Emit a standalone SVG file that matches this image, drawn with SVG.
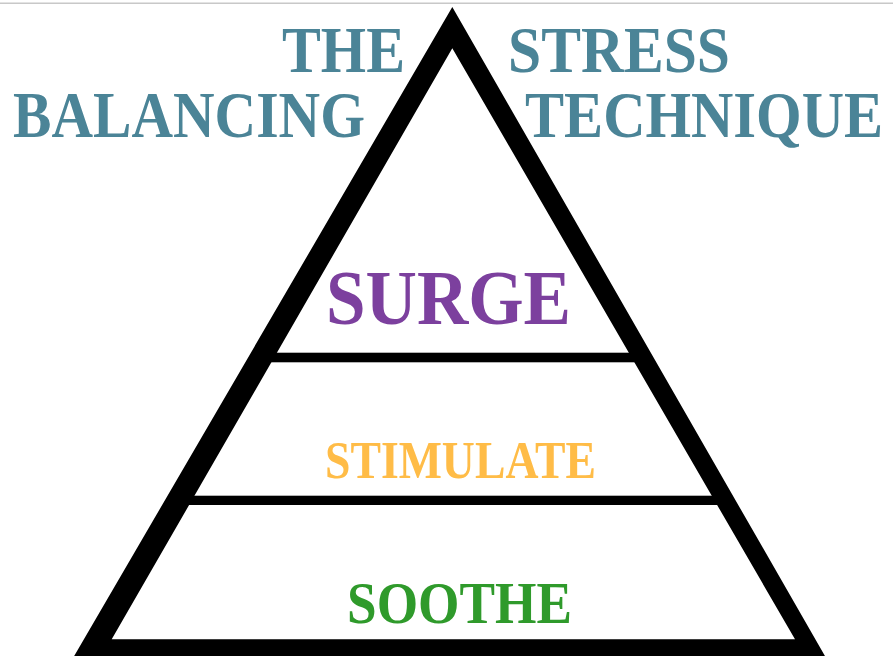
<svg xmlns="http://www.w3.org/2000/svg" width="893" height="656" viewBox="0 0 893 656">
  <style>
    .t { font-family: "Liberation Serif", "Times New Roman", serif; font-weight: bold; }
    .title { fill: #4b8497; font-size: 65px; }
    .surge { fill: #7c409e; font-size: 78px; }
    .stim { fill: #ffbc47; font-size: 53px; }
    .soothe { fill: #2f9a2b; font-size: 60px; }
  </style>
  <rect x="0" y="0" width="893" height="656" fill="#ffffff"/>
  <rect x="0" y="2.5" width="893" height="1.5" fill="#c8c8c8"/>

  <g id="pyramid">
    <path fill="#000" fill-rule="evenodd" d="M452.3,7 L66,670 L833,670 Z M452.3,48.3 L111.7,639.3 L795,639.3 Z"/>
    <rect x="265" y="352.7" width="380" height="9.6" fill="#000"/>
    <rect x="180" y="495.7" width="545" height="9.3" fill="#000"/>
  </g>

  <g id="title">
    <text class="t title" x="282" y="71.7" textLength="123" lengthAdjust="spacingAndGlyphs">THE</text>
    <text class="t title" x="508" y="71.7" textLength="222" lengthAdjust="spacingAndGlyphs">STRESS</text>
    <text class="t title" x="13" y="136.7" textLength="352" lengthAdjust="spacingAndGlyphs">BALANCING</text>
    <text class="t title" x="525" y="136.7" textLength="358" lengthAdjust="spacingAndGlyphs">TECHNIQUE</text>
  </g>

  <g id="surge">
    <text class="t surge" x="326" y="323.5" textLength="245" lengthAdjust="spacingAndGlyphs">SURGE</text>
  </g>
  <g id="stimulate">
    <text class="t stim" x="325" y="477.7" textLength="271" lengthAdjust="spacingAndGlyphs">STIMULATE</text>
  </g>
  <g id="soothe">
    <text class="t soothe" x="347" y="623.3" textLength="225" lengthAdjust="spacingAndGlyphs">SOOTHE</text>
  </g>
  <g id="connectors"/>
</svg>
